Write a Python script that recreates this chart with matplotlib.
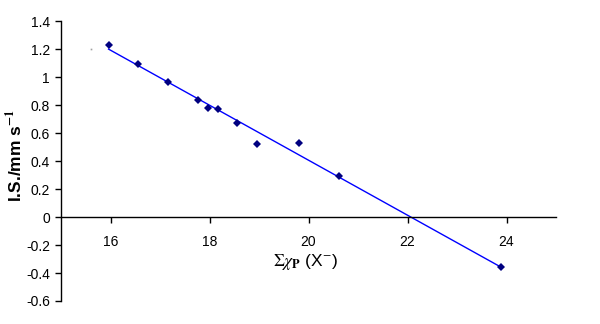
import numpy as np
import matplotlib.pyplot as plt

plt.rcParams['font.family'] = ['Liberation Sans', 'DejaVu Sans']
plt.rcParams['mathtext.fontset'] = 'stix'

# data
sum_chi = [15.96, 16.56, 17.17, 17.76, 17.96, 18.17, 18.56, 18.96, 19.81, 20.61, 23.88]
iso_shift = [1.231, 1.093, 0.962, 0.838, 0.781, 0.771, 0.671, 0.519, 0.531, 0.293, -0.357]
stray_x = [15.6]
stray_y = [1.198]

x_ticks = [16, 18, 20, 22, 24]
y_ticks = [-0.6, -0.4, -0.2, 0, 0.2, 0.4, 0.6, 0.8, 1.0, 1.2, 1.4]

fig = plt.figure(figsize=(6, 3.24), dpi=100)
ax = fig.add_axes([0.1017, 0.071, 0.825, 0.864])

# linear trendline across the data range
p = np.polyfit(sum_chi, iso_shift, 1)
xx = np.array([min(sum_chi), max(sum_chi)])
ax.plot(xx, np.polyval(p, xx), color='#0000ff', lw=1.0, zorder=2)

ax.plot(sum_chi, iso_shift, 'D', color='#000080', ms=4, mew=0, zorder=3)
ax.plot(stray_x, stray_y, 's', color='#a0a0a0', ms=1.2, mew=0)

ax.set_xlim(15, 25)
ax.set_ylim(-0.6, 1.4)
ax.set_xticks(x_ticks)
ax.set_yticks(y_ticks)
ax.set_yticklabels(['%g' % v for v in y_ticks])

ax.spines['top'].set_visible(False)
ax.spines['right'].set_visible(False)
ax.spines['bottom'].set_position(('data', 0))
ax.spines['left'].set_linewidth(1.0)
ax.spines['bottom'].set_linewidth(1.0)

ax.tick_params(axis='x', direction='out', length=4, width=1, pad=9, labelsize=10)
ax.tick_params(axis='y', direction='out', length=4, width=1, pad=4, labelsize=10)

fig.text(306 / 600, 1 - 262 / 324, r'$\Sigma\chi_{\mathbf{P}}$ (X$^{-}$)',
         ha='center', va='center', fontsize=12.5)
fig.text(15 / 600, 1 - 155 / 324, r'I.S./mm s$^{\mathbf{-1}}$', rotation=90,
         ha='center', va='center', fontsize=12.5, fontweight='bold')

fig.savefig('out.png', dpi=100)
